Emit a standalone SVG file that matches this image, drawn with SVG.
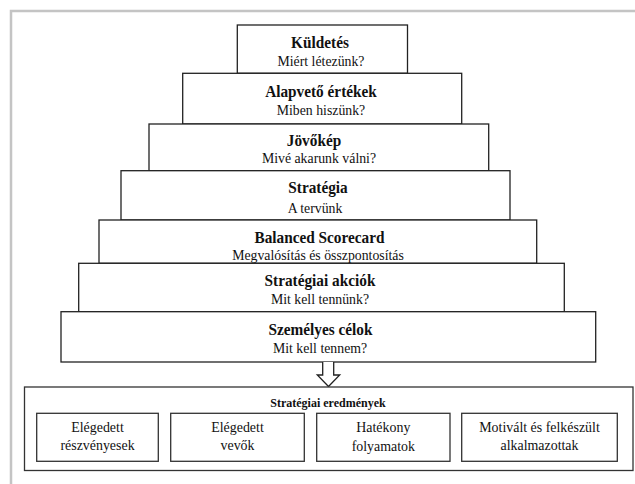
<svg xmlns="http://www.w3.org/2000/svg" width="635" height="484" viewBox="0 0 635 484">
<style>
.step{fill:#fff;stroke:#222;stroke-width:1.3}
.box{fill:#fff;stroke:#333;stroke-width:1.3}
.t{font-family:"Liberation Serif","Times New Roman",serif;font-weight:bold;font-size:17px;fill:#111;text-anchor:middle;transform:scaleX(0.9);transform-box:fill-box;transform-origin:center}
.s{font-family:"Liberation Serif","Times New Roman",serif;font-size:15px;fill:#111;text-anchor:middle;transform:scaleX(0.92);transform-box:fill-box;transform-origin:center}
.h{font-family:"Liberation Serif","Times New Roman",serif;font-weight:bold;font-size:12px;fill:#111;text-anchor:middle}
.i{font-family:"Liberation Serif","Times New Roman",serif;font-size:14.5px;fill:#111;text-anchor:middle;transform:scaleX(0.96);transform-box:fill-box;transform-origin:center}
.frame{fill:none;stroke:#c4c4c4;stroke-width:2.5}
</style>
<rect width="635" height="484" fill="#fff"/>
<path class="frame" d="M11,484 V11 H635"/>
<g id="kuldetes">
<rect class="step" x="237.3" y="25" width="170.2" height="48.3"/>
<text class="t" x="320" y="48.3">Küldetés</text>
<text class="s" x="321" y="66">Miért létezünk?</text>
</g>
<g id="alapveto">
<rect class="step" x="182.7" y="73.3" width="279" height="50.7"/>
<text class="t" x="321" y="96.7">Alapvető értékek</text>
<text class="s" x="321" y="115">Miben hiszünk?</text>
</g>
<g id="jovokep">
<rect class="step" x="149" y="124" width="339.7" height="46.7"/>
<text class="t" x="314" y="146">Jövőkép</text>
<text class="s" x="319" y="163.3">Mivé akarunk válni?</text>
</g>
<g id="strategia">
<rect class="step" x="121" y="170.7" width="389" height="49.3"/>
<text class="t" x="318" y="193.3">Stratégia</text>
<text class="s" x="315" y="212.7">A tervünk</text>
</g>
<g id="bsc">
<rect class="step" x="99" y="220" width="437.7" height="43.3"/>
<text class="t" x="319.5" y="242.7">Balanced Scorecard</text>
<text class="s" x="318" y="260">Megvalósítás és összpontosítás</text>
</g>
<g id="akciok">
<rect class="step" x="78.7" y="263.3" width="485.6" height="48.4"/>
<text class="t" x="320" y="286">Stratégiai akciók</text>
<text class="s" x="320" y="304">Mit kell tennünk?</text>
</g>
<g id="szemelyes">
<rect class="step" x="61" y="311.7" width="534.7" height="50.3"/>
<text class="t" x="320.5" y="335">Személyes célok</text>
<text class="s" x="320" y="353">Mit kell tennem?</text>
</g>
<g id="connectors">
<path d="M322.7,362 V375 H317.3 L328.5,386.5 L339.7,375 H333.7 V362" fill="#fff" stroke="#222" stroke-width="1.3"/>
</g>
<g id="eredmenyek">
<rect class="box" x="24.5" y="387" width="608.5" height="83.5"/>
<text class="h" x="328" y="406.5">Stratégiai eredmények</text>
</g>
<g id="reszvenyesek">
<rect class="box" x="36.7" y="413.3" width="121.6" height="48"/>
<text class="i" x="97.5" y="432.5">Elégedett</text>
<text class="i" x="97.5" y="450">részvényesek</text>
</g>
<g id="vevok">
<rect class="box" x="170.7" y="413.3" width="133.6" height="48"/>
<text class="i" x="237.5" y="432.5">Elégedett</text>
<text class="i" x="237.5" y="450">vevők</text>
</g>
<g id="folyamatok">
<rect class="box" x="316.7" y="413.3" width="133.3" height="48"/>
<text class="i" x="383.3" y="432.5">Hatékony</text>
<text class="i" x="383.3" y="451">folyamatok</text>
</g>
<g id="alkalmazottak">
<rect class="box" x="461.7" y="413.3" width="155.6" height="48"/>
<text class="i" x="539.5" y="432.5">Motivált és felkészült</text>
<text class="i" x="539.5" y="450">alkalmazottak</text>
</g>
</svg>
